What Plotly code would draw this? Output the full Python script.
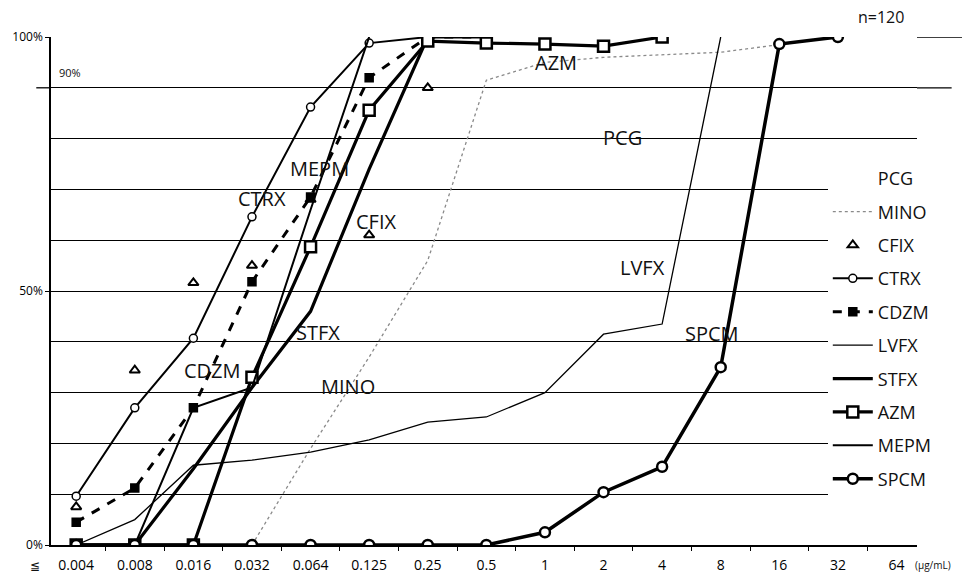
import plotly.graph_objects as go

# MIC categories (µg/mL); first bin is "≦0.004"
mic = ["0.004", "0.008", "0.016", "0.032", "0.064", "0.125", "0.25", "0.5",
       "1", "2", "4", "8", "16", "32", "64"]

# cumulative % of strains inhibited (n=120)
pcg = [None] * 15
mino = [None, None, None, 0, 19, 37, 56, 91.5, 95, 96, 96.5, 97, 98.5, 100, None]
cfix = [7.5, 34.4, 51.6, 55, 68, 61, 90, 100, None, None, None, None, None, None, None]
ctrx = [9.6, 27, 40.7, 64.6, 86.2, 98.8, 100, None, None, None, None, None, None, None, None]
cdzm = [4.5, 11.2, 27, 51.8, 68.5, 92, 100, 100, None, None, None, None, None, None, None]
lvfx = [0, 5, 15.7, 16.7, 18.3, 20.7, 24.2, 25.2, 30, 41.5, 43.5, 100, None, None, None]
stfx = [0, 0, 15, 31, 46, 74, 100, 100, None, None, None, None, None, None, None]
azm = [0, 0, 0, 33, 58.7, 85.6, 99.2, 98.8, 98.6, 98.2, 100, None, None, None, None]
mepm = [0, 0, 27, 31, 66, 100, None, None, None, None, None, None, None, None, None]
spcm = [0, 0, 0, 0, 0, 0, 0, 0, 2.5, 10.4, 15.4, 35, 98.6, 100, None]

FONT = "Open Sans"
fig = go.Figure()

fig.add_trace(go.Scatter(x=mic, y=pcg, name="PCG", mode="lines",
                         line=dict(color="rgba(0,0,0,0)", width=1)))
fig.add_trace(go.Scatter(x=mic, y=mino, name="MINO", mode="lines",
                         line=dict(color="#8a8a8a", width=1.3, dash="dot")))
fig.add_trace(go.Scatter(x=mic, y=cfix, name="CFIX", mode="markers",
                         marker=dict(symbol="triangle-up", size=9, color="white",
                                     line=dict(color="black", width=2))))
fig.add_trace(go.Scatter(x=mic, y=ctrx, name="CTRX", mode="lines+markers",
                         line=dict(color="black", width=2),
                         marker=dict(symbol="circle", size=8, color="white",
                                     line=dict(color="black", width=1.5))))
fig.add_trace(go.Scatter(x=mic, y=cdzm, name="CDZM", mode="lines+markers",
                         line=dict(color="black", width=3, dash="dash"),
                         marker=dict(symbol="square-x", size=8, color="black",
                                     line=dict(color="black", width=1.5))))
fig.add_trace(go.Scatter(x=mic, y=lvfx, name="LVFX", mode="lines",
                         line=dict(color="black", width=1.3)))
fig.add_trace(go.Scatter(x=mic, y=stfx, name="STFX", mode="lines",
                         line=dict(color="black", width=3.2)))
fig.add_trace(go.Scatter(x=mic, y=azm, name="AZM", mode="lines+markers",
                         line=dict(color="black", width=3.2),
                         marker=dict(symbol="square", size=11, color="white",
                                     line=dict(color="black", width=2.5))))
fig.add_trace(go.Scatter(x=mic, y=mepm, name="MEPM", mode="lines",
                         line=dict(color="black", width=2)))
fig.add_trace(go.Scatter(x=mic, y=spcm, name="SPCM", mode="lines+markers",
                         line=dict(color="black", width=3.5),
                         marker=dict(symbol="circle", size=10, color="white",
                                     line=dict(color="black", width=2.5))))

for tr in fig.data:
    tr.legendgroup = tr.name

# in-plot series labels: (text, category position, value)
labels = [("AZM", 8.19, 94.9), ("PCG", 9.33, 80.3), ("MEPM", 4.16, 74.2),
          ("CTRX", 3.17, 68.3), ("CFIX", 5.13, 63.6), ("LVFX", 9.67, 54.7),
          ("STFX", 4.13, 41.9), ("SPCM", 10.85, 41.7), ("CDZM", 2.32, 34.4),
          ("MINO", 4.64, 31.3)]
for txt, xc, yv in labels:
    fig.add_annotation(x=xc, y=yv, text=txt, showarrow=False,
                       font=dict(family=FONT, size=20, color="#111"))

fig.add_annotation(x=0, y=93, xref="paper", text="90%", showarrow=False,
                   xanchor="left", xshift=6,
                   font=dict(family=FONT, size=11, color="#111"))
fig.add_annotation(x=0.963, y=1.0, xref="paper", yref="paper", text="n=120",
                   xanchor="center", yanchor="bottom", yshift=7, xshift=-4,
                   showarrow=False, font=dict(family=FONT, size=16, color="#111"))
fig.add_annotation(x=1.0, y=0, xref="paper", yref="paper", yanchor="top",
                   xanchor="left", text="(µg/mL)", showarrow=False, xshift=-4, yshift=-11,
                   font=dict(family=FONT, size=10, color="#111"))
fig.add_annotation(x=0, y=0, xref="paper", yref="paper", yanchor="top",
                   xanchor="right", text="≦", showarrow=False, xshift=-9, yshift=-10,
                   font=dict(family=FONT, size=12, color="#111"))

# 100% and 90% lines run past the plot edge; 90% line also crosses the y axis
fig.add_shape(type="line", xref="paper", x0=1.0, x1=1.052, y0=100, y1=100,
              line=dict(color="black", width=1.3))
fig.add_shape(type="line", xref="paper", x0=1.0, x1=1.04, y0=90, y1=90,
              line=dict(color="black", width=1.3))
fig.add_shape(type="line", xref="paper", x0=-0.017, x1=0, y0=90, y1=90,
              line=dict(color="black", width=1.3))

fig.update_layout(
    width=962, height=576,
    margin=dict(l=51, r=45, t=37, b=31, autoexpand=False),
    paper_bgcolor="white", plot_bgcolor="white",
    font=dict(family=FONT, color="#111"),
    showlegend=True,
    legend=dict(xref="paper", yref="paper", x=0.897, y=0.758,
                xanchor="left", yanchor="top", maxheight=420,
                bgcolor="white", font=dict(family=FONT, size=18, color="#111"),
                tracegroupgap=7, itemwidth=40),
    xaxis=dict(type="category", categoryorder="array", categoryarray=mic,
               range=[-0.43, 14.35], tickvals=mic, ticktext=mic,
               tickson="boundaries", ticks="outside", ticklen=4,
               tickcolor="black", showline=True, linecolor="black", linewidth=1.5,
               showgrid=False, zeroline=False, ticklabelstandoff=6,
               tickfont=dict(family=FONT, size=14, color="#000")),
    yaxis=dict(range=[0, 100], tickmode="array", tickvals=[0, 50, 100],
               ticktext=["0%", "50%", "100%"],
               ticks="outside", ticklen=4, tickcolor="black",
               showline=True, linecolor="black", linewidth=1.5,
               showgrid=True, gridcolor="black", gridwidth=1.3,
               zeroline=False,
               tickfont=dict(family=FONT, size=12, color="#000"),
               minor=dict(tickvals=list(range(10, 100, 10)), showgrid=True,
                          gridcolor="black", gridwidth=1.3, ticks="")),
)

fig.write_html("out.html")
